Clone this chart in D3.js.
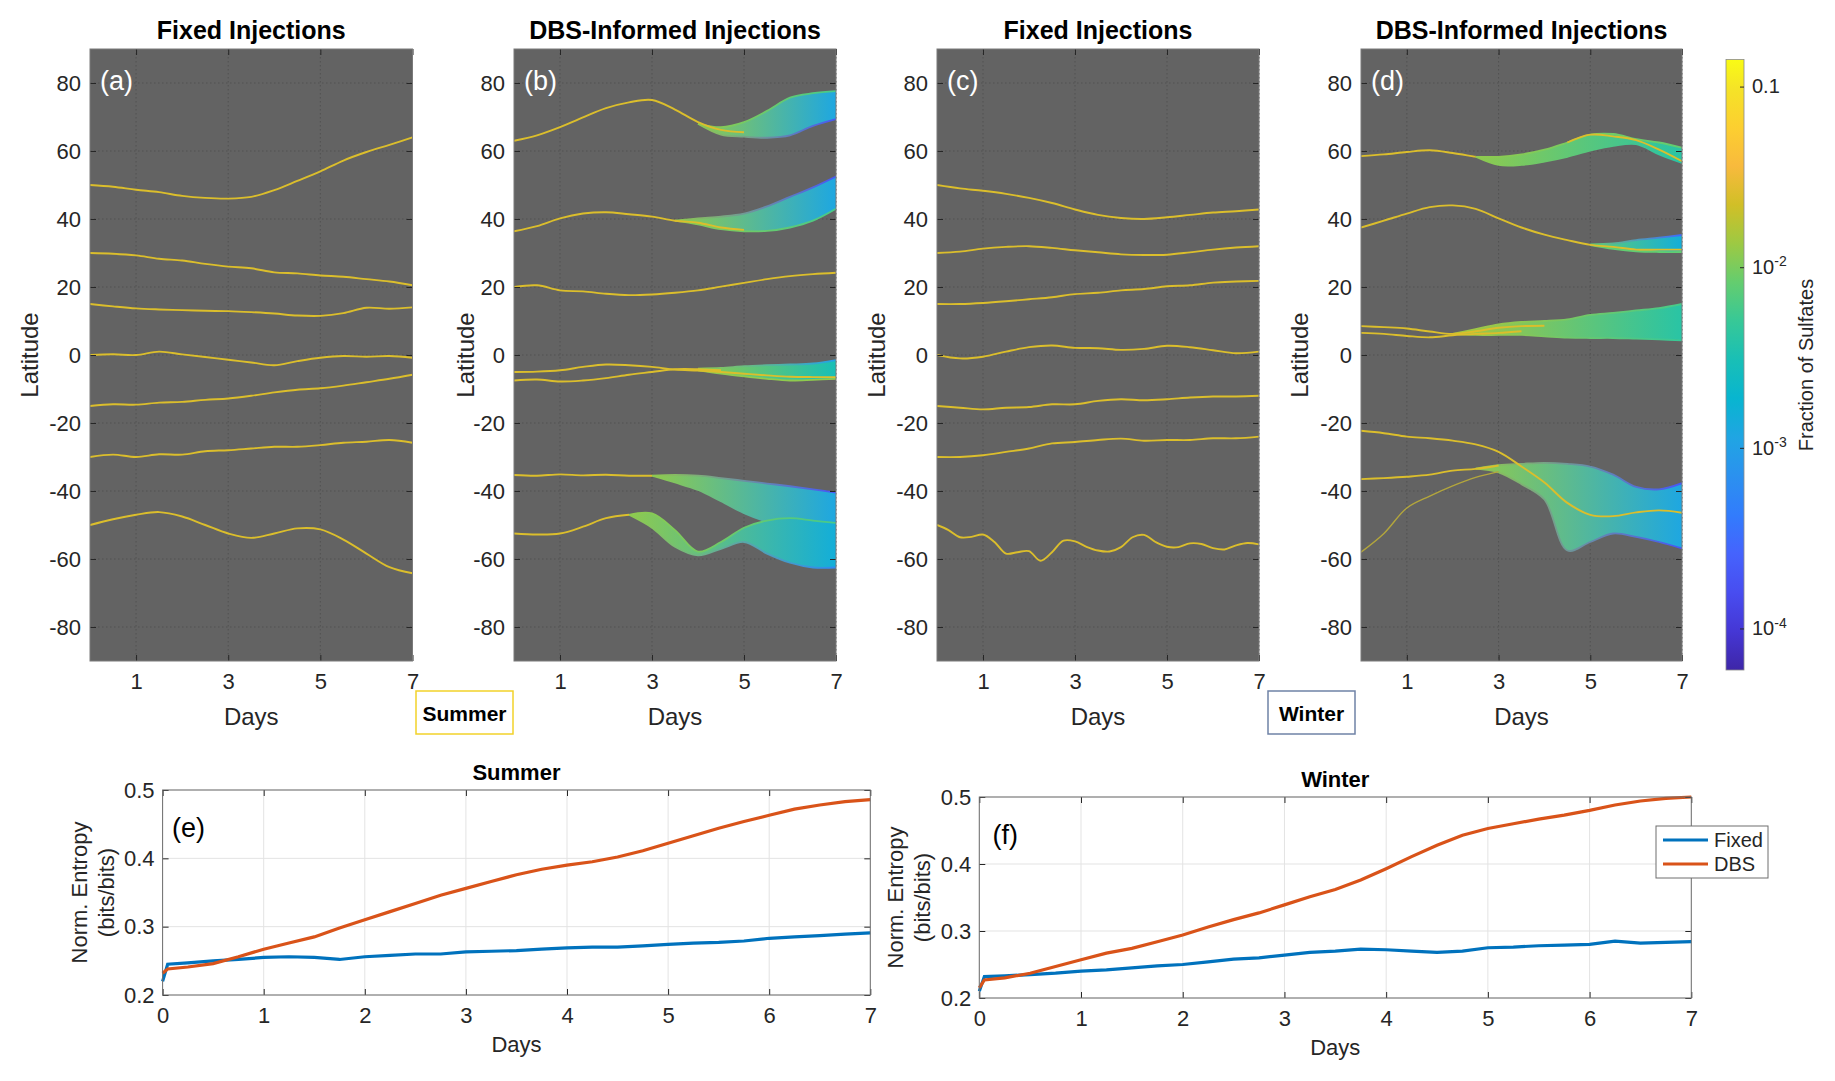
<!DOCTYPE html>
<html>
<head>
<meta charset="utf-8">
<script src="https://cdn.jsdelivr.net/npm/d3@7"></script>
<style>
  body { margin: 0; background: #fff; }
  svg { display: block; font-family: "Liberation Sans", Arial, Helvetica, sans-serif; }
</style>
</head>
<body>
<div id="chart"></div>
<script>
// ---------------- data ----------------
let days = [0, 0.5, 1, 1.5, 2, 2.5, 3, 3.5, 4, 4.5, 5, 5.5, 6, 6.5, 7];
let daysFine = [0, 0.25, 0.5, 0.75, 1, 1.25, 1.5, 1.75, 2, 2.25, 2.5, 2.75, 3, 3.25, 3.5,
                3.75, 4, 4.25, 4.5, 4.75, 5, 5.25, 5.5, 5.75, 6, 6.25, 6.5, 6.75, 7];
let dayTicks = [1, 3, 5, 7];
let latTicks = [-80, -60, -40, -20, 0, 20, 40, 60, 80];

// (a) summer, fixed injections: latitude of each plume per day
let latA = [
  [50, 49.5, 48.6, 47.9, 46.8, 46.2, 46, 46.5, 48.5, 51.2, 54, 57.2, 59.7, 61.8, 64],
  [30, 29.8, 29.3, 28.3, 27.8, 26.8, 26, 25.5, 24.3, 24, 23.4, 23, 22.3, 21.6, 20.5],
  [15, 14.3, 13.7, 13.4, 13.2, 13, 12.9, 12.6, 12.2, 11.6, 11.5, 12.3, 13.9, 13.6, 14],
  [0, 0.2, 0, 1, 0.2, -0.6, -1.4, -2.2, -3, -1.8, -0.8, -0.3, -0.5, -0.3, -0.8],
  [-15, -14.5, -14.6, -14, -13.8, -13.2, -12.8, -12, -11, -10.2, -9.8, -9, -8, -7, -5.8],
  [-30, -29.3, -30, -29.2, -29.3, -28.3, -28, -27.5, -27, -27, -26.5, -25.8, -25.5, -25, -25.8],
  [-50, -48.3, -47, -46.2, -47.5, -50, -52.5, -53.8, -52.5, -51, -51.3, -54.3, -58.4, -62.4, -64.2]
];

// (b) summer, DBS-informed: core tracks (null = track has spread into a band)
let latB = [
  [63, 64.6, 67, 69.9, 72.6, 74.3, 75, 72.2, 68.5, 66.2, 65.5, null, null, null, null],
  [36.4, 37.9, 40.2, 41.6, 42, 41.4, 40.7, 39.5, 38.9, 37.5, 36.8, null, null, null, null],
  [20, 20.5, 19, 18.7, 18, 17.6, 17.8, 18.3, 19, 20.1, 21.2, 22.3, 23.2, 23.8, 24.2],
  [-5, -4.9, -4.5, -3.5, -2.8, -3, -3.5, -4.3, -4.6, -5, -5.5, -6, -6.4, -6.5, -6.5],
  [-7.5, -7.2, -7.8, -7.5, -6.8, -5.8, -5, -4.2, -4.2, -4.5, null, null, null, null, null],
  [-35.3, -35.5, -35.1, -35.4, -35.2, -35.5, -35.5, null, null, null, null, null, null, null, null],
  [-52.5, -52.8, -52.5, -50.5, -48, -47, null, null, null, null, null, null, null, null, null]
];
// spread of the ensemble: from = index into days, f = [start, end] sulfate fraction,
// fHi / fLo = fraction on the upper / lower edge at the end
let bandsB = [
  {from: 8, lo: [68, 64.8, 64.2, 63.9, 64.6, 67.4, 69.4], hi: [68, 67, 68.5, 71.8, 75.7, 77, 77.6], f: [0.012, 0.0012], fHi: 0.006, fLo: 0.0002},
  {from: 7, lo: [39.5, 38.4, 37, 36.4, 36.5, 37.5, 39.5, 43], hi: [39.5, 40.2, 40.7, 41.6, 43.7, 46.5, 49.3, 52.5], f: [0.012, 0.0012], fHi: 0.0002, fLo: 0.006},
  {from: 8, lo: [-4.5, -5.5, -6.3, -7, -7.5, -7.3, -7], hi: [-4, -3.8, -3.3, -3, -2.8, -2.5, -1.5], f: [0.012, 0.003], fHi: 0.001, fLo: 0.012},
  {from: 6, lo: [-35.5, -37.5, -39.7, -43, -46.5, -49, -50.5, -51.5, -52], hi: [-35.5, -35.3, -35.5, -36.2, -37, -37.8, -38.6, -39.5, -40.5], f: [0.012, 0.0012], fHi: 0.0002, fLo: 0.001},
  {from: 5, lo: [-47, -50.8, -56.4, -58.9, -57, -55, -58.4, -61.1, -62.5, -62.5], hi: [-47, -46.6, -51.5, -57.8, -55, -50.8, -48.7, -48, -48.7, -49.4], f: [0.012, 0.0015], fHi: 0.006, fLo: 0.0006}
];

// (c) winter, fixed injections
let latC = [
  [50, 49, 48.3, 47.4, 46.2, 44.7, 42.8, 41.2, 40.3, 40, 40.5, 41.2, 41.9, 42.3, 42.8],
  [30, 30.4, 31.3, 31.8, 32, 31.5, 30.8, 30.2, 29.6, 29.4, 29.5, 30.2, 31, 31.6, 32],
  [15, 15, 15.3, 15.8, 16.4, 17, 17.9, 18.3, 19, 19.4, 20.2, 20.5, 21.3, 21.6, 21.8],
  [0, -1, -0.5, 1, 2.3, 2.8, 2.1, 2, 1.5, 1.8, 2.7, 2.3, 1.4, 0.5, 1],
  [-15, -15.5, -16, -15.5, -15.3, -14.5, -14.5, -13.5, -13, -13.3, -13, -12.5, -12.2, -12.2, -12],
  [-30, -30, -29.5, -28.5, -27.5, -26, -25.6, -25, -24.6, -25.2, -25, -25, -24.5, -24.5, -24],
  // this one wiggles, read every quarter day
  [-50, -51.5, -53.6, -53.5, -52.8, -55, -58.4, -58, -57.7, -60.5, -58, -54.6, -54.8, -56.4, -57.5,
   -57.8, -56.5, -53.6, -52.9, -55, -56.4, -56.5, -55.4, -55.6, -56.8, -57.2, -56, -55.3, -55.7]
];

// (d) winter, DBS-informed
let latD = [
  [58.5, 59, 59.7, 60.2, 59.4, 58.3, null, null, null, null, null, null, null, null, null],
  [null, null, null, null, null, null, null, null, null, 62.5, 64.8, 64.3, 63.2, 60.4, 57],
  [37.5, 39.5, 41.6, 43.5, 44, 43, 40.2, 37.5, 35.4, 33.8, 32.4, 31.8, 31, 31, 31],
  [8.5, 8.2, 7.8, 6.9, 6.2, 7, 8, 8.5, 8.6, null, null, null, null, null, null],
  [6.5, 6.2, 5.6, 5.2, 5.8, 6.2, 6.5, 7, null, null, null, null, null, null, null],
  [-22.3, -23, -24, -24.5, -25.2, -26.3, -28.5, -32.8, -37.5, -43.5, -47, -47.4, -46.3, -45.7, -46.4],
  [-36.5, -36.2, -35.8, -35.2, -34, -33.5, -32.5, null, null, null, null, null, null, null, null]
];
let latDfaint = [-58, -52.5, -45, -41.5, -38.5, -36, -34.3, null, null, null, null, null, null, null, null];
let bandsD = [
  {from: 5, lo: [58.3, 55.9, 55.9, 56.9, 58.3, 60.1, 61.5, 62, 59, 56.5], hi: [58.3, 58.3, 59, 60.4, 62.5, 64.8, 65, 63.5, 62.5, 61], f: [0.012, 0.004], fHi: 0.008, fLo: 0.004},
  {from: 10, lo: [32.3, 31.2, 30.5, 30.3, 30.3], hi: [32.5, 32.8, 33.8, 34.5, 35.3], f: [0.008, 0.0015], fHi: 0.0003, fLo: 0.008},
  {from: 4, lo: [6.2, 5.9, 5.9, 5.9, 5.5, 5.1, 5, 5, 4.8, 4.6, 4.3], hi: [6.2, 7.6, 9, 9.7, 10, 10.5, 11.8, 12.4, 13.1, 13.8, 15], f: [0.015, 0.004], fHi: 0.006, fLo: 0.005},
  {from: 5, lo: [-33.4, -34.5, -38, -42.5, -57.5, -55, -52.5, -53.5, -55, -56.9], hi: [-33.4, -32.4, -32, -31.7, -32, -32.8, -35.2, -38.8, -39.5, -37.7], f: [0.012, 0.0012], fHi: 0.0002, fLo: 0.0002}
];
let lineFrac = 0.025;   // sulfate fraction carried by an unspread track

// colour bar (parula)
let cbTicks = [1e-4, 1e-3, 1e-2, 0.1];
let cbRange = [Math.pow(10, -4.23), Math.pow(10, -0.85)];
let parulaHex = ["#3e26a8", "#4537d5", "#484df0", "#4563fd", "#327cfc", "#2b91ef", "#20a5e3", "#08b5d0",
                 "#19bfb6", "#37c897", "#64cd6f", "#9dc943", "#d1bf27", "#f8ba3d", "#fccf30", "#f5e327", "#f9fb15"];
let parulaPos = [0, 4, 8, 12, 16, 20, 24, 28, 32, 36, 40, 44, 48, 52, 56, 60, 63];

// (e) / (f) normalised entropy
let entDays = [0, 0.05, 0.25, 0.5, 0.75, 1, 1.25, 1.5, 1.75, 2, 2.25, 2.5, 2.75, 3, 3.25, 3.5,
               3.75, 4, 4.25, 4.5, 4.75, 5, 5.25, 5.5, 5.75, 6, 6.25, 6.5, 6.75, 7];
let sumFixed = [0.22, 0.245, 0.247, 0.25, 0.252, 0.255, 0.256, 0.255, 0.252, 0.256, 0.258, 0.26, 0.26, 0.263, 0.264,
                0.265, 0.267, 0.269, 0.27, 0.27, 0.272, 0.274, 0.276, 0.277, 0.279, 0.283, 0.285, 0.287, 0.289, 0.291];
let sumDbs = [0.232, 0.238, 0.241, 0.246, 0.256, 0.267, 0.276, 0.285, 0.298, 0.31, 0.322, 0.334, 0.346, 0.356, 0.366,
              0.376, 0.384, 0.39, 0.395, 0.402, 0.411, 0.422, 0.433, 0.444, 0.454, 0.463, 0.472, 0.478, 0.483, 0.486];
let winFixed = [0.21, 0.232, 0.233, 0.235, 0.237, 0.24, 0.242, 0.245, 0.248, 0.25, 0.254, 0.258, 0.26, 0.264, 0.268,
                0.27, 0.273, 0.272, 0.27, 0.268, 0.27, 0.275, 0.276, 0.278, 0.279, 0.28, 0.285, 0.282, 0.283, 0.284];
let winDbs = [0.215, 0.227, 0.23, 0.237, 0.247, 0.257, 0.267, 0.274, 0.284, 0.294, 0.306, 0.317, 0.327, 0.339, 0.351,
              0.362, 0.376, 0.393, 0.411, 0.428, 0.443, 0.453, 0.46, 0.467, 0.473, 0.48, 0.488, 0.494, 0.498, 0.5];
let entDayTicks = [0, 1, 2, 3, 4, 5, 6, 7];
let entTicks = [0.2, 0.3, 0.4, 0.5];
let seriesNames = ["Fixed", "DBS"];
let seriesColors = ["#0072bd", "#d95319"];

// ---------------- drawing ----------------
let svg = d3.select("#chart").append("svg")
  .attr("width", 1835)
  .attr("height", 1081)

let defs = svg.append("defs")
let ink = "#262626"

let fScale = d3.scaleLog().domain(cbRange).range([0, 1]).clamp(true)
let parula = d3.scaleLinear()
  .domain(parulaPos.map(function (p) { return p / 63; }))
  .range(parulaHex)
  .interpolate(d3.interpolateRgb)
function fracColor(f) { return parula(fScale(f)); }

// matlab writes negatives with a plain hyphen
function hyphenFormat(d) { return d < 0 ? "-" + Math.abs(d) : String(d); }

let topY0 = 49, topY1 = 661

let topPanels = [
  {left: 90, right: 412.5, title: "Fixed Injections", tag: "(a)", lines: latA, bands: [], ylab: 29},
  {left: 514, right: 836, title: "DBS-Informed Injections", tag: "(b)", lines: latB, bands: bandsB, ylab: 465},
  {left: 937, right: 1259, title: "Fixed Injections", tag: "(c)", lines: latC, bands: [], ylab: 876},
  {left: 1361, right: 1682, title: "DBS-Informed Injections", tag: "(d)", lines: latD, bands: bandsD, ylab: 1299, faint: latDfaint}
]

let gradCount = 0
function makeGrad(x1, x2, f1, f2) {
  let id = "grad" + (gradCount++)
  let grad = defs.append("linearGradient")
    .attr("id", id)
    .attr("gradientUnits", "userSpaceOnUse")
    .attr("x1", x1).attr("x2", x2).attr("y1", 0).attr("y2", 0)
  grad.append("stop").attr("offset", 0).attr("stop-color", fracColor(f1))
  grad.append("stop").attr("offset", 1).attr("stop-color", fracColor(f2))
  return "url(#" + id + ")"
}

//styles the tick text and lines of an axis group
function styleAxis(selection, size) {
  selection.select(".domain").remove()
  selection.selectAll(".tick line").attr("stroke", ink)
  selection.selectAll(".tick text")
    .attr("fill", ink)
    .style("font-size", size + "px")
}

topPanels.forEach(function (p, i) {
  let x = d3.scaleLinear().domain([0, 7]).range([p.left, p.right])
  let y = d3.scaleLinear().domain([-90, 90]).range([topY1, topY0])
  let g = svg.append("g")

  g.append("rect")
    .attr("x", p.left).attr("y", topY0)
    .attr("width", p.right - p.left).attr("height", topY1 - topY0)
    .attr("fill", "#636363")

  // dotted grid
  g.selectAll(".gx").data(dayTicks).enter().append("line")
    .attr("x1", function (d) { return x(d); }).attr("x2", function (d) { return x(d); })
    .attr("y1", topY0).attr("y2", topY1)
    .attr("stroke", "#525252").attr("stroke-dasharray", "1.5,2.5")
  g.selectAll(".gy").data(latTicks).enter().append("line")
    .attr("x1", p.left).attr("x2", p.right)
    .attr("y1", function (d) { return y(d); }).attr("y2", function (d) { return y(d); })
    .attr("stroke", "#525252").attr("stroke-dasharray", "1.5,2.5")

  defs.append("clipPath").attr("id", "clip" + i)
    .append("rect")
    .attr("x", p.left).attr("y", topY0)
    .attr("width", p.right - p.left).attr("height", topY1 - topY0)
  let plot = g.append("g").attr("clip-path", "url(#clip" + i + ")")

  // ensemble bands
  p.bands.forEach(function (b) {
    let dd = days.slice(b.from)
    let area = d3.area()
      .x(function (d, k) { return x(dd[k]); })
      .y0(function (d, k) { return y(b.lo[k]); })
      .y1(function (d, k) { return y(b.hi[k]); })
      .curve(d3.curveCatmullRom)
    plot.append("path").datum(b.lo)
      .attr("d", area)
      .attr("fill", makeGrad(x(dd[0]), x(7), b.f[0], b.f[1]))
    let edge = d3.line()
      .x(function (d, k) { return x(dd[k]); })
      .y(function (d) { return y(d); })
      .curve(d3.curveCatmullRom)
    plot.append("path").datum(b.hi)
      .attr("d", edge).attr("fill", "none").attr("stroke-width", 1.8)
      .attr("stroke", makeGrad(x(dd[0]), x(7), b.f[0], b.fHi))
    plot.append("path").datum(b.lo)
      .attr("d", edge).attr("fill", "none").attr("stroke-width", 1.8)
      .attr("stroke", makeGrad(x(dd[0]), x(7), b.f[0], b.fLo))
  })

  let line = d3.line()
    .defined(function (d) { return d[1] != null; })
    .x(function (d) { return x(d[0]); })
    .y(function (d) { return y(d[1]); })
    .curve(d3.curveCatmullRom)

  if (p.faint) {
    plot.append("path")
      .datum(p.faint.map(function (v, k) { return [days[k], v]; }))
      .attr("d", line).attr("fill", "none")
      .attr("stroke", "#b3a63c").attr("stroke-width", 1.4)
  }

  p.lines.forEach(function (l) {
    let dd = l.length === daysFine.length ? daysFine : days
    plot.append("path")
      .datum(l.map(function (v, k) { return [dd[k], v]; }))
      .attr("d", line).attr("fill", "none")
      .attr("stroke", fracColor(lineFrac)).attr("stroke-width", 1.9)
  })

  // axes: inward ticks on all four sides
  g.append("g").attr("transform", "translate(" + p.left + ",0)")
    .call(d3.axisLeft(y).tickValues(latTicks).tickSize(-6).tickPadding(9).tickFormat(hyphenFormat))
    .call(styleAxis, 22)
  g.append("g").attr("transform", "translate(" + p.right + ",0)")
    .call(d3.axisRight(y).tickValues(latTicks).tickSize(-6).tickFormat(""))
    .call(styleAxis, 22)
  g.append("g").attr("transform", "translate(0," + topY1 + ")")
    .call(d3.axisBottom(x).tickValues(dayTicks).tickSize(-6).tickPadding(12).tickFormat(d3.format("d")))
    .call(styleAxis, 22)
  g.append("g").attr("transform", "translate(0," + topY0 + ")")
    .call(d3.axisTop(x).tickValues(dayTicks).tickSize(-6).tickFormat(""))
    .call(styleAxis, 22)

  g.append("rect")
    .attr("x", p.left).attr("y", topY0)
    .attr("width", p.right - p.left).attr("height", topY1 - topY0)
    .attr("fill", "none").attr("stroke", "#7a7a7a")

  g.append("text")
    .attr("x", p.left + 10).attr("y", 90)
    .attr("fill", "#fff").style("font-size", "27px")
    .text(p.tag)
  g.append("text")
    .attr("x", (p.left + p.right) / 2).attr("y", 39)
    .attr("text-anchor", "middle").style("font-size", "25px").style("font-weight", "bold")
    .text(p.title)
  g.append("text")
    .attr("x", (p.left + p.right) / 2).attr("y", 725)
    .attr("text-anchor", "middle").attr("fill", ink).style("font-size", "24px")
    .text("Days")
  g.append("text")
    .attr("transform", "translate(" + p.ylab + "," + 355 + ") rotate(-90)")
    .attr("text-anchor", "middle").attr("dominant-baseline", "central")
    .attr("fill", ink).style("font-size", "24px")
    .text("Latitude")
})

// season boxes
let seasonBoxes = [
  {x: 416, w: 97, label: "Summer", stroke: "#f2d22a"},
  {x: 1268, w: 87, label: "Winter", stroke: "#6f82a6"}
]
seasonBoxes.forEach(function (b) {
  svg.append("rect")
    .attr("x", b.x).attr("y", 691).attr("width", b.w).attr("height", 43)
    .attr("fill", "#fff").attr("stroke", b.stroke).attr("stroke-width", 1.5)
  svg.append("text")
    .attr("x", b.x + b.w / 2).attr("y", 713)
    .attr("text-anchor", "middle").attr("dominant-baseline", "central")
    .style("font-size", "21px").style("font-weight", "bold")
    .text(b.label)
})

// colour bar
let cbX = 1726, cbW = 18, cbTop = 59.5, cbBottom = 670
let cbGrad = defs.append("linearGradient").attr("id", "cbgrad")
  .attr("x1", 0).attr("x2", 0).attr("y1", 1).attr("y2", 0)
parulaHex.forEach(function (c, i) {
  cbGrad.append("stop").attr("offset", parulaPos[i] / 63).attr("stop-color", c)
})
svg.append("rect")
  .attr("x", cbX).attr("y", cbTop).attr("width", cbW).attr("height", cbBottom - cbTop)
  .attr("fill", "url(#cbgrad)").attr("stroke", "#8a8a8a").attr("stroke-width", 0.8)
let cbScale = d3.scaleLog().domain(cbRange).range([cbBottom, cbTop])
let cbAxis = svg.append("g").attr("transform", "translate(" + (cbX + cbW) + ",0)")
  .call(d3.axisRight(cbScale).tickValues(cbTicks).tickSize(-4).tickPadding(8).tickFormat(""))
  .call(styleAxis, 20)
cbAxis.selectAll(".tick text").each(function (d) {
  let t = d3.select(this)
  if (d === 0.1) { t.text("0.1"); return; }
  t.append("tspan").text("10")
  t.append("tspan").attr("dy", "-0.55em").style("font-size", "14px")
    .text("-" + Math.round(-Math.log10(d)))
})
svg.append("text")
  .attr("transform", "translate(1806,365) rotate(-90)")
  .attr("text-anchor", "middle").attr("dominant-baseline", "central")
  .attr("fill", ink).style("font-size", "20px")
  .text("Fraction of Sulfates")

// entropy panels
let entPanels = [
  {left: 162.6, right: 870.3, top: 790, bottom: 995, title: "Summer", tag: "(e)", data: [sumFixed, sumDbs], ylab: [79, 106], legend: false},
  {left: 979.3, right: 1691.3, top: 797, bottom: 998, title: "Winter", tag: "(f)", data: [winFixed, winDbs], ylab: [895, 922], legend: true}
]

entPanels.forEach(function (p) {
  let x = d3.scaleLinear().domain([0, 7]).range([p.left, p.right])
  let y = d3.scaleLinear().domain([0.2, 0.5]).range([p.bottom, p.top])
  let g = svg.append("g")

  g.selectAll(".gx").data(entDayTicks).enter().append("line")
    .attr("x1", function (d) { return x(d); }).attr("x2", function (d) { return x(d); })
    .attr("y1", p.top).attr("y2", p.bottom)
    .attr("stroke", "#e3e3e3")
  g.selectAll(".gy").data(entTicks).enter().append("line")
    .attr("x1", p.left).attr("x2", p.right)
    .attr("y1", function (d) { return y(d); }).attr("y2", function (d) { return y(d); })
    .attr("stroke", "#e3e3e3")

  let line = d3.line()
    .x(function (d, k) { return x(entDays[k]); })
    .y(function (d) { return y(d); })
  p.data.forEach(function (s, j) {
    g.append("path").datum(s)
      .attr("d", line).attr("fill", "none")
      .attr("stroke", seriesColors[j]).attr("stroke-width", 3.2)
  })

  g.append("g").attr("transform", "translate(" + p.left + ",0)")
    .call(d3.axisLeft(y).tickValues(entTicks).tickSize(-6).tickPadding(8).tickFormat(d3.format(".1f")))
    .call(styleAxis, 22)
  g.append("g").attr("transform", "translate(" + p.right + ",0)")
    .call(d3.axisRight(y).tickValues(entTicks).tickSize(-6).tickFormat(""))
    .call(styleAxis, 22)
  g.append("g").attr("transform", "translate(0," + p.bottom + ")")
    .call(d3.axisBottom(x).tickValues(entDayTicks).tickSize(-6).tickPadding(12).tickFormat(d3.format("d")))
    .call(styleAxis, 22)
  g.append("g").attr("transform", "translate(0," + p.top + ")")
    .call(d3.axisTop(x).tickValues(entDayTicks).tickSize(-6).tickFormat(""))
    .call(styleAxis, 22)
  g.append("rect")
    .attr("x", p.left).attr("y", p.top)
    .attr("width", p.right - p.left).attr("height", p.bottom - p.top)
    .attr("fill", "none").attr("stroke", "#6e6e6e")

  g.append("text")
    .attr("x", (p.left + p.right) / 2).attr("y", p.top - 10)
    .attr("text-anchor", "middle").style("font-size", "22px").style("font-weight", "bold")
    .text(p.title)
  g.append("text")
    .attr("x", (p.left + p.right) / 2).attr("y", p.bottom + 57)
    .attr("text-anchor", "middle").attr("fill", ink).style("font-size", "22px")
    .text("Days")
  g.append("text")
    .attr("x", p.left + 26).attr("y", p.top + 38)
    .attr("text-anchor", "middle").attr("dominant-baseline", "central")
    .style("font-size", "27px")
    .text(p.tag)
  let midY = (p.top + p.bottom) / 2
  g.append("text")
    .attr("transform", "translate(" + p.ylab[0] + "," + midY + ") rotate(-90)")
    .attr("text-anchor", "middle").attr("dominant-baseline", "central")
    .attr("fill", ink).style("font-size", "22px")
    .text("Norm. Entropy")
  g.append("text")
    .attr("transform", "translate(" + p.ylab[1] + "," + midY + ") rotate(-90)")
    .attr("text-anchor", "middle").attr("dominant-baseline", "central")
    .attr("fill", ink).style("font-size", "22px")
    .text("(bits/bits)")

  if (p.legend) {
    let lg = g.append("g").attr("transform", "translate(1656,826)")
    lg.append("rect").attr("width", 112).attr("height", 52)
      .attr("fill", "#fff").attr("stroke", "#6e6e6e")
    seriesNames.forEach(function (n, j) {
      let ly = 14 + j * 24
      lg.append("line").attr("x1", 7).attr("x2", 52).attr("y1", ly).attr("y2", ly)
        .attr("stroke", seriesColors[j]).attr("stroke-width", 3)
      lg.append("text").attr("x", 58).attr("y", ly)
        .attr("dominant-baseline", "central").attr("fill", ink).style("font-size", "20px")
        .text(n)
    })
  }
})
</script>
</body>
</html>
